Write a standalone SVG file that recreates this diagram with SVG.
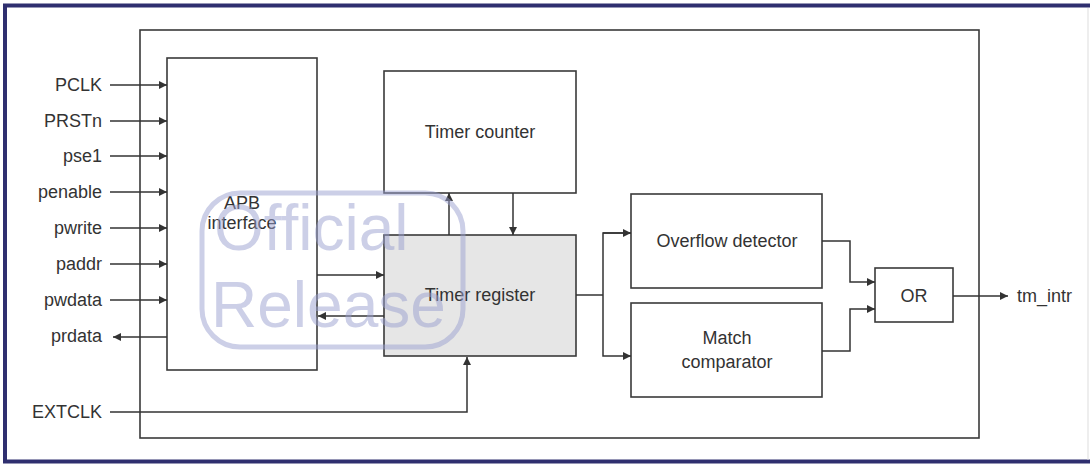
<svg xmlns="http://www.w3.org/2000/svg" width="1090" height="464" viewBox="0 0 1090 464">
<style>
.frame{fill:none;stroke:#2f2f6f;stroke-width:4}
.box{fill:#fff;stroke:#3a3a3a;stroke-width:1.6}
.reg{fill:#e6e6e6;stroke:#3a3a3a;stroke-width:1.6}
.wire{fill:none;stroke:#333;stroke-width:1.5}
.t{font-family:"Liberation Sans",Arial,sans-serif;font-size:18px;fill:#333}
.c{text-anchor:middle}
.r{text-anchor:end}
.wm{font-family:"Liberation Sans",Arial,sans-serif;font-size:64px;fill:#9aa0d0;opacity:0.5}
</style>
<defs>
<marker id="ah" viewBox="0 0 10 10" refX="10" refY="5" markerWidth="9" markerHeight="8" markerUnits="userSpaceOnUse" orient="auto">
<path d="M0,0 L10,5 L0,10 z" fill="#333"/>
</marker>
</defs>
<rect x="0" y="0" width="1090" height="464" fill="#fff"/>
<g id="frame">
<line class="frame" x1="3" y1="5.5" x2="1090" y2="5.5"/>
<line class="frame" x1="5" y1="4" x2="5" y2="463"/>
<line class="frame" x1="3" y1="461.5" x2="1090" y2="461.5"/>
<line x1="1088" y1="8" x2="1088" y2="460" stroke="#ddd" stroke-width="1"/>
</g>
<g id="chip"><rect class="box" x="140" y="30" width="839" height="408" fill="none"/></g>
<g id="apb"><rect class="box" x="167" y="58" width="150" height="312"/>
<text class="t c" x="242" y="209">APB</text><text class="t c" x="242" y="229">interface</text></g>
<g id="counter"><rect class="box" x="384" y="71" width="192" height="122"/>
<text class="t c" x="480" y="138">Timer counter</text></g>
<g id="register"><rect class="reg" x="384" y="235" width="192" height="121"/>
<text class="t c" x="480" y="301">Timer register</text></g>
<g id="overflow"><rect class="box" x="631" y="194" width="191" height="94"/>
<text class="t c" x="727" y="247">Overflow detector</text></g>
<g id="match"><rect class="box" x="631" y="303" width="191" height="94"/>
<text class="t c" x="727" y="344">Match</text><text class="t c" x="727" y="368">comparator</text></g>
<g id="or"><rect class="box" x="875" y="268" width="78" height="54"/>
<text class="t c" x="914" y="302">OR</text></g>
<g id="labels">
<text class="t r" x="102" y="91">PCLK</text>
<text class="t r" x="102" y="127">PRSTn</text>
<text class="t r" x="102" y="162">pse1</text>
<text class="t r" x="102" y="198">penable</text>
<text class="t r" x="102" y="234">pwrite</text>
<text class="t r" x="102" y="270">paddr</text>
<text class="t r" x="102" y="306">pwdata</text>
<text class="t r" x="102" y="342">prdata</text>
<text class="t r" x="102" y="418">EXTCLK</text>
<text class="t" x="1017" y="302">tm_intr</text>
</g>
<g id="connectors">
<line class="wire" x1="110" y1="85" x2="167" y2="85" marker-end="url(#ah)"/>
<line class="wire" x1="110" y1="121" x2="167" y2="121" marker-end="url(#ah)"/>
<line class="wire" x1="110" y1="156" x2="167" y2="156" marker-end="url(#ah)"/>
<line class="wire" x1="110" y1="192" x2="167" y2="192" marker-end="url(#ah)"/>
<line class="wire" x1="110" y1="228" x2="167" y2="228" marker-end="url(#ah)"/>
<line class="wire" x1="110" y1="264" x2="167" y2="264" marker-end="url(#ah)"/>
<line class="wire" x1="110" y1="300" x2="167" y2="300" marker-end="url(#ah)"/>
<line class="wire" x1="167" y1="337" x2="113" y2="337" marker-end="url(#ah)"/>
<polyline class="wire" points="110,412 467,412 467,357" marker-end="url(#ah)"/>
<line class="wire" x1="317" y1="275" x2="384" y2="275" marker-end="url(#ah)"/>
<line class="wire" x1="384" y1="316" x2="318" y2="316" marker-end="url(#ah)"/>
<line class="wire" x1="449" y1="235" x2="449" y2="193" marker-end="url(#ah)"/>
<line class="wire" x1="513" y1="193" x2="513" y2="235" marker-end="url(#ah)"/>
<line class="wire" x1="576" y1="295" x2="603" y2="295"/>
<polyline class="wire" points="631,233 603,233 603,356 631,356" marker-end="url(#ah)"/>
<line class="wire" x1="603" y1="233" x2="631" y2="233" marker-end="url(#ah)"/>
<polyline class="wire" points="822,241 850,241 850,282 875,282" marker-end="url(#ah)"/>
<polyline class="wire" points="822,351 850,351 850,309 875,309" marker-end="url(#ah)"/>
<line class="wire" x1="953" y1="296" x2="1008" y2="296" marker-end="url(#ah)"/>
</g>
<g id="watermark">
<rect x="202" y="193" width="261" height="154" rx="38" fill="none" stroke="#9aa0d0" stroke-width="5" opacity="0.5"/>
<text class="wm" x="214" y="250">Official</text>
<text class="wm" x="211" y="327">Release</text>
</g>
</svg>
